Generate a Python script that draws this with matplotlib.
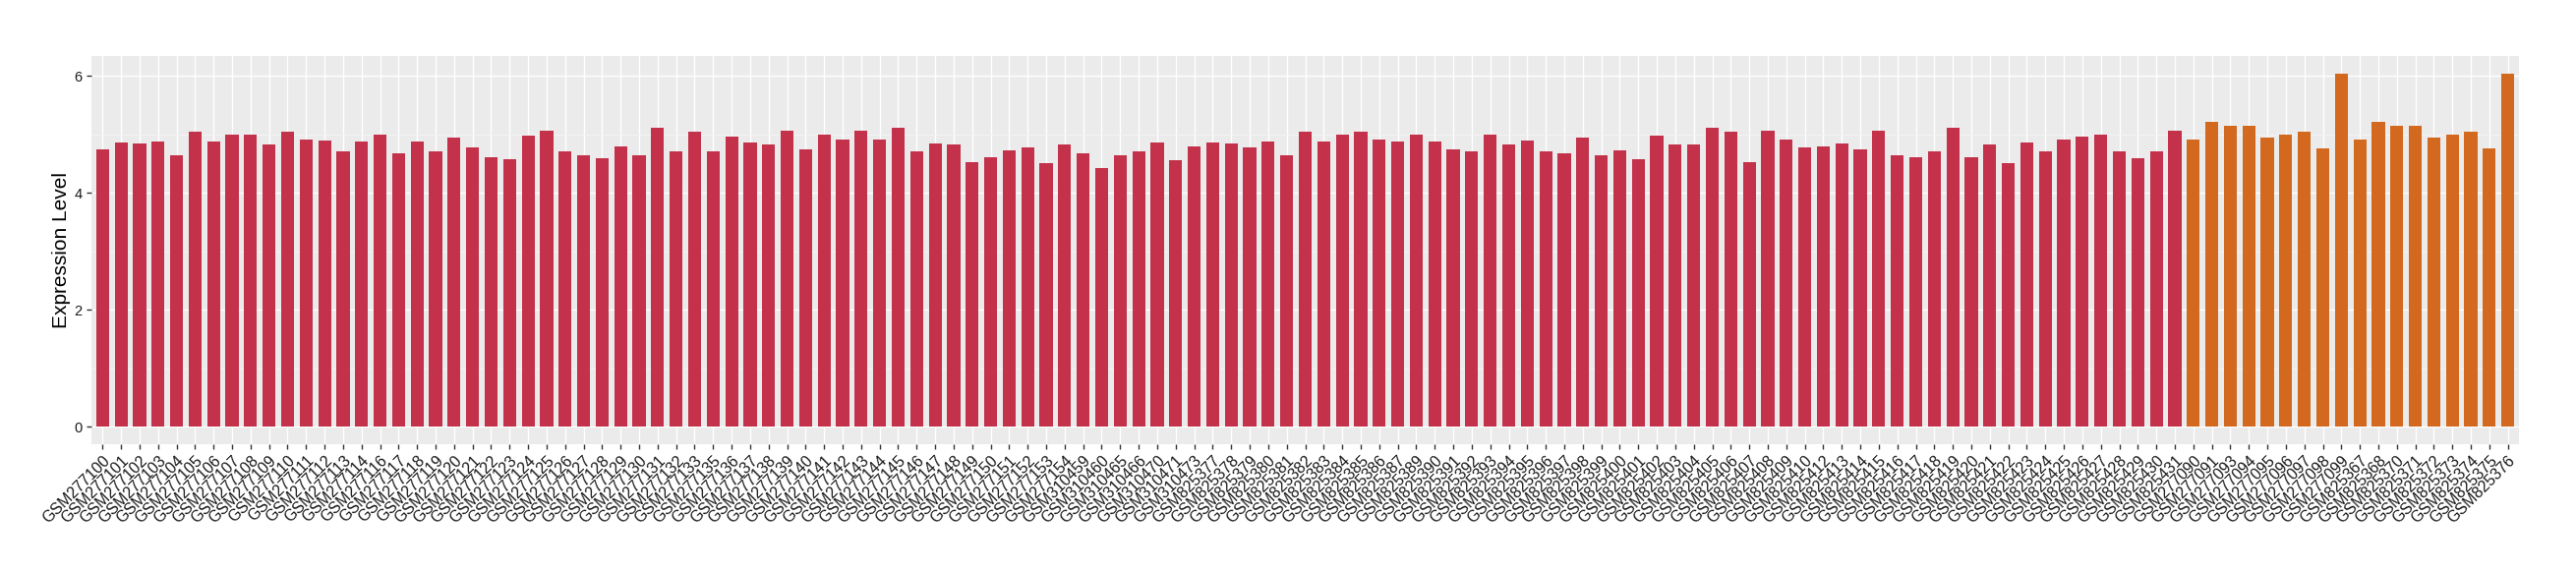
import matplotlib
matplotlib.use("Agg")
import matplotlib.pyplot as plt
from matplotlib.ticker import MultipleLocator

# --------------------------------------
# Data
# --------------------------------------
group_a_samples = [
    "GSM277100", "GSM277101", "GSM277102", "GSM277103", "GSM277104", "GSM277105",
    "GSM277106", "GSM277107", "GSM277108", "GSM277109", "GSM277110", "GSM277111",
    "GSM277112", "GSM277113", "GSM277114", "GSM277116", "GSM277117", "GSM277118",
    "GSM277119", "GSM277120", "GSM277121", "GSM277122", "GSM277123", "GSM277124",
    "GSM277125", "GSM277126", "GSM277127", "GSM277128", "GSM277129", "GSM277130",
    "GSM277131", "GSM277132", "GSM277133", "GSM277135", "GSM277136", "GSM277137",
    "GSM277138", "GSM277139", "GSM277140", "GSM277141", "GSM277142", "GSM277143",
    "GSM277144", "GSM277145", "GSM277146", "GSM277147", "GSM277148", "GSM277149",
    "GSM277150", "GSM277151", "GSM277152", "GSM277153", "GSM277154",
    "GSM310459", "GSM310460", "GSM310465", "GSM310466", "GSM310470", "GSM310471",
    "GSM310473",
    "GSM825377", "GSM825378", "GSM825379", "GSM825380", "GSM825381", "GSM825382",
    "GSM825383", "GSM825384", "GSM825385", "GSM825386", "GSM825387", "GSM825389",
    "GSM825390", "GSM825391", "GSM825392", "GSM825393", "GSM825394", "GSM825395",
    "GSM825396", "GSM825397", "GSM825398", "GSM825399", "GSM825400", "GSM825401",
    "GSM825402", "GSM825403", "GSM825404", "GSM825405", "GSM825406", "GSM825407",
    "GSM825408", "GSM825409", "GSM825410", "GSM825412", "GSM825413", "GSM825414",
    "GSM825415", "GSM825416", "GSM825417", "GSM825418", "GSM825419", "GSM825420",
    "GSM825421", "GSM825422", "GSM825423", "GSM825424", "GSM825425", "GSM825426",
    "GSM825427", "GSM825428", "GSM825429", "GSM825430", "GSM825431",
]
group_a_values = [
    4.74, 4.86, 4.84, 4.88, 4.64, 5.04, 4.88, 4.99, 4.99, 4.83,
    5.04, 4.91, 4.89, 4.71, 4.88, 4.99, 4.67, 4.88, 4.71, 4.94,
    4.78, 4.61, 4.57, 4.98, 5.06, 4.71, 4.64, 4.59, 4.79, 4.64,
    5.11, 4.71, 5.04, 4.71, 4.96, 4.86, 4.83, 5.06, 4.74, 4.99,
    4.91, 5.06, 4.91, 5.11, 4.71, 4.84, 4.83, 4.52, 4.61, 4.72,
    4.78, 4.51, 4.83, 4.67, 4.42, 4.65, 4.71, 4.86, 4.56, 4.79,
    4.86, 4.84, 4.78, 4.88, 4.64, 5.04, 4.88, 4.99, 5.04, 4.91,
    4.88, 4.99, 4.88, 4.74, 4.71, 4.99, 4.83, 4.89, 4.71, 4.67,
    4.94, 4.64, 4.72, 4.57, 4.98, 4.83, 4.83, 5.11, 5.04, 4.52,
    5.06, 4.91, 4.78, 4.79, 4.84, 4.74, 5.06, 4.64, 4.61, 4.71,
    5.11, 4.61, 4.83, 4.51, 4.86, 4.71, 4.91, 4.96, 4.99, 4.71,
    4.59, 4.71, 5.06,
]

group_b_samples = [
    "GSM277090", "GSM277091", "GSM277093", "GSM277094", "GSM277095", "GSM277096",
    "GSM277097", "GSM277098", "GSM277099",
    "GSM825367", "GSM825368", "GSM825370", "GSM825371", "GSM825372", "GSM825373",
    "GSM825374", "GSM825375", "GSM825376",
]
group_b_values = [
    4.91, 5.21, 5.15, 5.15, 4.94, 4.99, 5.04, 4.76, 6.04,
    4.91, 5.21, 5.15, 5.15, 4.94, 4.99, 5.04, 4.76, 6.04,
]

color_a = "#C3314A"
color_b = "#D2691E"

# --------------------------------------
# Plot
# --------------------------------------
plt.rcParams["font.family"] = ["Liberation Sans", "DejaVu Sans"]

samples = group_a_samples + group_b_samples
values = group_a_values + group_b_values
colors = [color_a] * len(group_a_samples) + [color_b] * len(group_b_samples)
x_pos = list(range(1, len(samples) + 1))

fig = plt.figure(figsize=(26.2, 5.8), dpi=100)
ax = fig.add_axes([93 / 2620, 1 - 452 / 580, (2562 - 93) / 2620, (452 - 57) / 580])

ax.set_facecolor("#EBEBEB")
ax.bar(x_pos, values, width=0.7, color=colors, zorder=3)

ax.set_xlim(0.4, len(samples) + 0.6)
ax.set_ylim(-0.302, 6.34)

ax.set_xticks(x_pos)
ax.set_xticklabels(samples, rotation=45, ha="right", va="top",
                   rotation_mode="anchor", fontsize=11.5, color="#1a1a1a")
ax.yaxis.set_major_locator(MultipleLocator(2))
ax.yaxis.set_minor_locator(MultipleLocator(1))
ax.tick_params(axis="y", which="major", labelsize=10.5, labelcolor="#1a1a1a",
               color="#333333", length=3.5, width=1)
ax.tick_params(axis="y", which="minor", length=0)
ax.tick_params(axis="x", color="#333333", length=3.5, width=1, pad=3)

ax.grid(True, which="major", color="white", linewidth=1.0, zorder=0)
ax.grid(True, which="minor", axis="y", color="#F5F5F5", linewidth=0.6, zorder=0)
ax.set_axisbelow(True)
for spine in ax.spines.values():
    spine.set_visible(False)

ax.set_ylabel("Expression Level", fontsize=15, color="black", labelpad=2)

fig.savefig("out.png", dpi=100, facecolor="white")
